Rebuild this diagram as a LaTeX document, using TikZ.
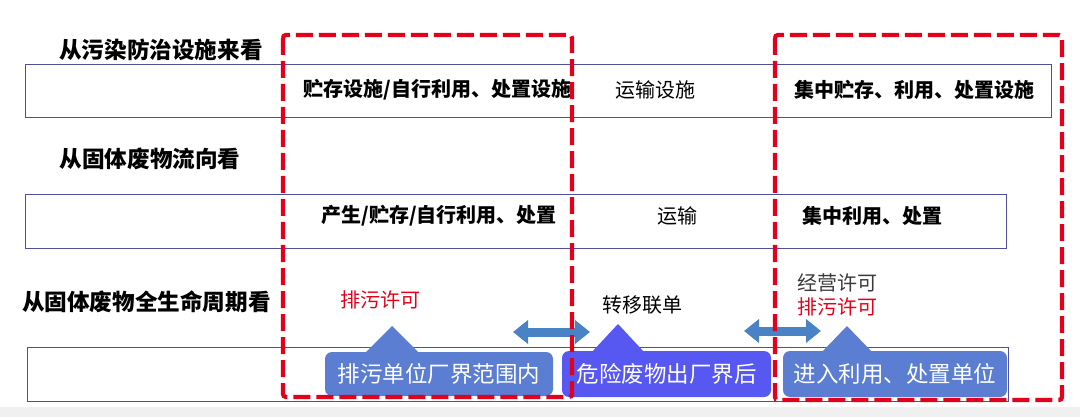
\documentclass[tikz,border=0pt]{standalone}
\usepackage{fontspec}
\setmainfont{Noto Sans CJK SC}
\usepackage{tikz}
\usetikzlibrary{arrows.meta}
\definecolor{framered}{HTML}{E3001B}
\definecolor{rowline}{HTML}{4F4F9A}
\definecolor{calloutblue}{HTML}{5B7ED2}
\definecolor{calloutviolet}{HTML}{5757F2}
\definecolor{arrowblue}{HTML}{4A82C6}
\definecolor{permitgray}{HTML}{3A3A3A}

\begin{document}
\begin{tikzpicture}[x=1pt,y=-1pt,
  rowbox/.style={draw=rowline,line width=1.2pt,anchor=north west,inner sep=0pt},
  heading/.style={font=\fontsize{22.6}{24}\selectfont\bfseries},
  cell/.style={font=\fontsize{20}{22}\selectfont},
  boldcell/.style={font=\fontsize{20}{22}\selectfont\bfseries},
  callout/.style={rounded corners=7pt,text=white,inner sep=0pt,
    font=\fontsize{22.5}{24}\selectfont},
  zone/.style={draw=framered,line width=4.3pt,dash pattern=on 17pt off 6pt,rounded corners=3pt},
  swap/.style={arrowblue,line width=9pt,
    {Triangle[length=15pt,width=23pt]}-{Triangle[length=15pt,width=23pt]}}]
\useasboundingbox (0,0) rectangle (1080,417);
\fill[gray!12] (0,407) rectangle (1080,417);
%% headings
\node[heading] (hFacility) at (161,50) {从污染防治设施来看};
\node[heading] (hFlow) at (150,159) {从固体废物流向看};
\node[heading] (hLife) at (146.5,302) {从固体废物全生命周期看};
%% rows
\node[rowbox,minimum width=1026pt,minimum height=53pt] (rowFacility) at (25,64) {};
\node[rowbox,minimum width=981pt,minimum height=54pt] (rowFlow) at (25,194) {};
\node[rowbox,minimum width=981pt,minimum height=54pt] (rowLife) at (27,347) {};
\node[boldcell,anchor=west] (tStore) at (300,90) {贮存设施/自行利用、处置设施};
\node[cell] (tTransport) at (655,90) {运输设施};
\node[boldcell,anchor=west] (tCentral) at (791,90) {集中贮存、利用、处置设施};
\node[boldcell,anchor=west] (tProduce) at (318,216) {产生/贮存/自行利用、处置};
\node[cell] (tMove) at (677,216) {运输};
\node[boldcell,anchor=west] (tUse) at (799,216) {集中利用、处置};
%% permits
\node[cell,text=framered] (pInside) at (380,300) {排污许可};
\node[cell] (pManifest) at (642,305) {转移联单};
\node[cell,text=permitgray] (pLicence) at (837,283) {经营许可};
\node[cell,text=framered] (pUnit) at (837,307) {排污许可};
%% callouts
\fill[calloutblue] (365,353) -- (392,326) -- (419,353) -- cycle;
\fill[calloutviolet] (591,353) -- (618,324) -- (645,353) -- cycle;
\fill[calloutblue] (821,353) -- (847,326) -- (873,353) -- cycle;
\node[callout,fill=calloutblue,minimum width=228pt,minimum height=44pt] (cInside) at (439,374) {排污单位厂界范围内};
\node[callout,fill=calloutviolet,minimum width=209pt,minimum height=46pt] (cOutside) at (666.5,374) {危险废物出厂界后};
\node[callout,fill=calloutblue,minimum width=224pt,minimum height=46pt] (cUnit) at (895,374) {进入利用、处置单位};
%% double arrows
\coordinate (swapAL) at (513,332);
\coordinate (swapAR) at (590,332);
\coordinate (swapBL) at (744,331);
\coordinate (swapBR) at (821,331);
\draw[swap] (swapAL) -- (swapAR);
\draw[swap] (swapBL) -- (swapBR);
%% red frames
\draw[zone] (283,35) rectangle (572,397);
\draw[zone] (775,35) rectangle (1062,400);
\end{tikzpicture}
\end{document}
